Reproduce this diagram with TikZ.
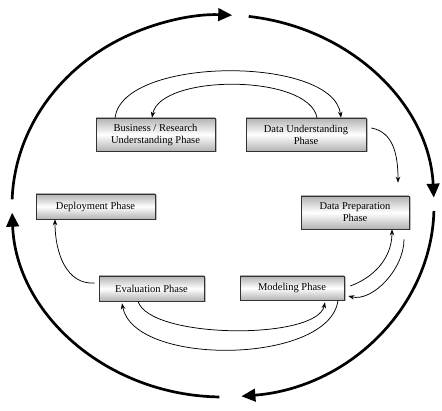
\documentclass[tikz,border=0pt]{standalone}
\usepackage{fontspec}
\setmainfont{Liberation Serif}
\usetikzlibrary{arrows.meta,shadows}
\begin{document}
\begin{tikzpicture}[x=1pt,y=1pt,
  phase/.style={draw=black!80, line width=0.6pt, top color=gray!60, bottom color=gray!60, middle color=white,
    font=\fontsize{10.5}{12}\selectfont, align=center, inner sep=1pt,
    drop shadow={shadow xshift=1.5pt, shadow yshift=-1.5pt, fill=gray!55, opacity=1}},
  link/.style={line width=0.75pt, -{Stealth[length=6pt,width=4.5pt]}},
  cycle/.style={line width=2.7pt, -{Triangle[length=14pt,width=12.5pt]}}]
\useasboundingbox (0,0) rectangle (442,410);
\coordinate (c) at (223,204);
% outer cycle arcs
\draw[cycle] ([shift={(178:211pt and 191pt)}]c) arc[start angle=178, end angle=87.5, x radius=211pt, y radius=191pt];
\draw[cycle] ([shift={(83:211pt and 191pt)}]c) arc[start angle=83, end angle=2.5, x radius=211pt, y radius=191pt];
\draw[cycle] ([shift={(-1.5:211pt and 191pt)}]c) arc[start angle=-1.5, end angle=-85, x radius=211pt, y radius=191pt];
\draw[cycle] ([shift={(-91:211pt and 191pt)}]c) arc[start angle=-91, end angle=-178, x radius=211pt, y radius=191pt];
% phases
\node[phase, minimum width=119pt, minimum height=33pt] (BR) at (155.5,275.5) {Business / Research\\Understanding Phase};
\node[phase, minimum width=120pt, minimum height=33pt] (DU) at (306,275.5) {Data Understanding\\Phase};
\node[phase, minimum width=119pt, minimum height=25pt] (Dep) at (95.5,203.5) {Deployment Phase};
\node[phase, minimum width=108pt, minimum height=33pt] (DP) at (355,197.5) {Data Preparation\\Phase};
\node[phase, minimum width=105pt, minimum height=25pt] (Ev) at (151.5,121.5) {Evaluation Phase};
\node[phase, minimum width=104pt, minimum height=24pt] (Mod) at (292,122) {Modeling Phase};
% connectors
\draw[link] ([xshift=-40.5pt]BR.north) .. controls +(8,62) and +(-8,62) .. ([xshift=35pt]DU.north);
\draw[link] ([xshift=11pt]DU.north) .. controls +(-8,44) and +(8,44) .. ([xshift=-3.5pt]BR.north);
\draw[link] ([xshift=5pt,yshift=6.5pt]DU.east) .. controls +(22,-4) and +(0,28) .. ([xshift=43pt,yshift=13pt]DP.north);
\draw[link] ([xshift=6pt,yshift=2pt]Mod.east) .. controls +(22,8) and +(0,-30) .. ([xshift=37pt]DP.south);
\draw[link] ([xshift=49pt,yshift=-10pt]DP.south) .. controls +(0,-30) and +(24,-6) .. ([xshift=4pt,yshift=-8pt]Mod.east);
\draw[link] ([xshift=-13.5pt]Ev.south) .. controls +(12,-38) and +(-8,-38) .. ([xshift=33pt,yshift=-2pt]Mod.south);
\draw[link] ([xshift=46pt]Mod.south) .. controls +(-8,-64) and +(12,-64) .. ([xshift=-29.5pt,yshift=-2pt]Ev.south);
\draw[link] ([xshift=-4pt,yshift=5.5pt]Ev.west) .. controls +(-28,-2) and +(0,-34) .. ([xshift=-40.5pt]Dep.south);
\end{tikzpicture}
\end{document}
